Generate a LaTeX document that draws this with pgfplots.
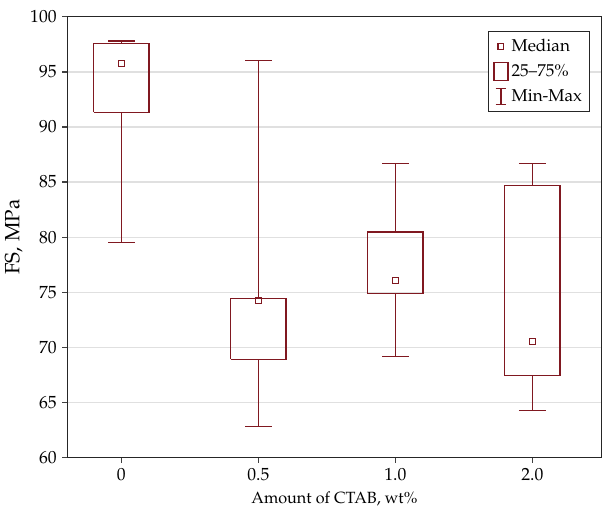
\documentclass[border=0pt]{standalone}
\usepackage[T1]{fontenc}
\usepackage{mathpazo}
\usepackage{pgfplots}
\pgfplotsset{compat=1.18}
\definecolor{boxred}{RGB}{128,24,32}
\begin{document}
\begin{tikzpicture}
\begin{axis}[
  name=ax,
  scale only axis, width=349pt, height=288pt,
  xmin=-0.394, xmax=3.504, ymin=60, ymax=100,
  xtick={0,1,2,3}, xticklabels={0,0.5,1.0,2.0},
  ytick={60,65,...,100},
  ymajorgrids, grid style={black!12, line width=0.8pt},
  tick align=outside, xtick pos=bottom, ytick pos=left,
  major tick length=3.5pt,
  axis line style={black!85, line width=0.8pt},
  tick style={black!75, line width=0.8pt},
  tick label style={font=\fontsize{11.5}{13}\selectfont},
  xlabel={Amount of CTAB, wt\%}, ylabel={FS, MPa},
  xlabel style={font=\fontsize{10.6}{12}\selectfont},
  ylabel style={font=\fontsize{13.5}{15}\selectfont, yshift=-2pt},
  unbounded coords=jump,
  legend style={at={(0.979,0.968)}, anchor=north east, draw=black!85,
    line width=0.6pt, font=\fontsize{11.2}{13}\selectfont, row sep=3pt, inner sep=3pt,
    nodes={inner sep=2pt}},
  legend cell align=left,
]
% legend entries
\addplot[only marks, mark=square, mark size=1.9pt, boxred, mark options={line width=0.7pt, fill=white}] coordinates {(0,95.78) (1,74.21) (2,76.04) (3,70.54)};
\addlegendentry{Median}
\addlegendimage{legend image code/.code={\draw[boxred, line width=0.8pt] (0.14cm,-0.2cm) rectangle (0.46cm,0.2cm);}}
\addlegendentry{25--75\%}
\addlegendimage{legend image code/.code={\draw[boxred, line width=0.8pt] (0.18cm,-0.19cm)--(0.42cm,-0.19cm) (0.3cm,-0.19cm)--(0.3cm,0.19cm) (0.18cm,0.19cm)--(0.42cm,0.19cm);}}
\addlegendentry{Min-Max}
% boxes (25--75%)
\addplot[boxred, line width=0.8pt, line join=miter, forget plot] coordinates {
 (-0.202,91.32) (0.202,91.32) (0.202,97.6) (-0.202,97.6) (-0.202,91.32) (nan,nan)
 (0.798,68.9) (1.202,68.9) (1.202,74.42) (0.798,74.42) (0.798,68.9) (nan,nan)
 (1.798,74.85) (2.202,74.85) (2.202,80.46) (1.798,80.46) (1.798,74.85) (nan,nan)
 (2.798,67.41) (3.202,67.41) (3.202,84.69) (2.798,84.69) (2.798,67.41)
};
% whiskers (Min-Max)
\addplot[boxred, line width=0.8pt, forget plot] coordinates {
 (0,97.6) (0,97.8) (nan,nan) (0,91.32) (0,79.5) (nan,nan)
 (1,74.42) (1,96.0) (nan,nan) (1,68.9) (1,62.82) (nan,nan)
 (2,80.46) (2,86.7) (nan,nan) (2,74.85) (2,69.15) (nan,nan)
 (3,84.69) (3,86.7) (nan,nan) (3,67.41) (3,64.25)
};
\addplot[boxred, line width=0.8pt, forget plot] coordinates {
 (-0.0975,97.8) (0.0975,97.8) (nan,nan) (-0.0975,79.5) (0.0975,79.5) (nan,nan)
 (0.9025,96.0) (1.0975,96.0) (nan,nan) (0.9025,62.82) (1.0975,62.82) (nan,nan)
 (1.9025,86.7) (2.0975,86.7) (nan,nan) (1.9025,69.15) (2.0975,69.15) (nan,nan)
 (2.9025,86.7) (3.0975,86.7) (nan,nan) (2.9025,64.25) (3.0975,64.25)
};
% medians on top
\addplot[only marks, mark=square, mark size=1.9pt, boxred, mark options={line width=0.7pt, fill=white}, forget plot] coordinates {(0,95.78) (1,74.21) (2,76.04) (3,70.54)};
\end{axis}
\path ([yshift=11pt]ax.north);
\end{tikzpicture}
\end{document}
